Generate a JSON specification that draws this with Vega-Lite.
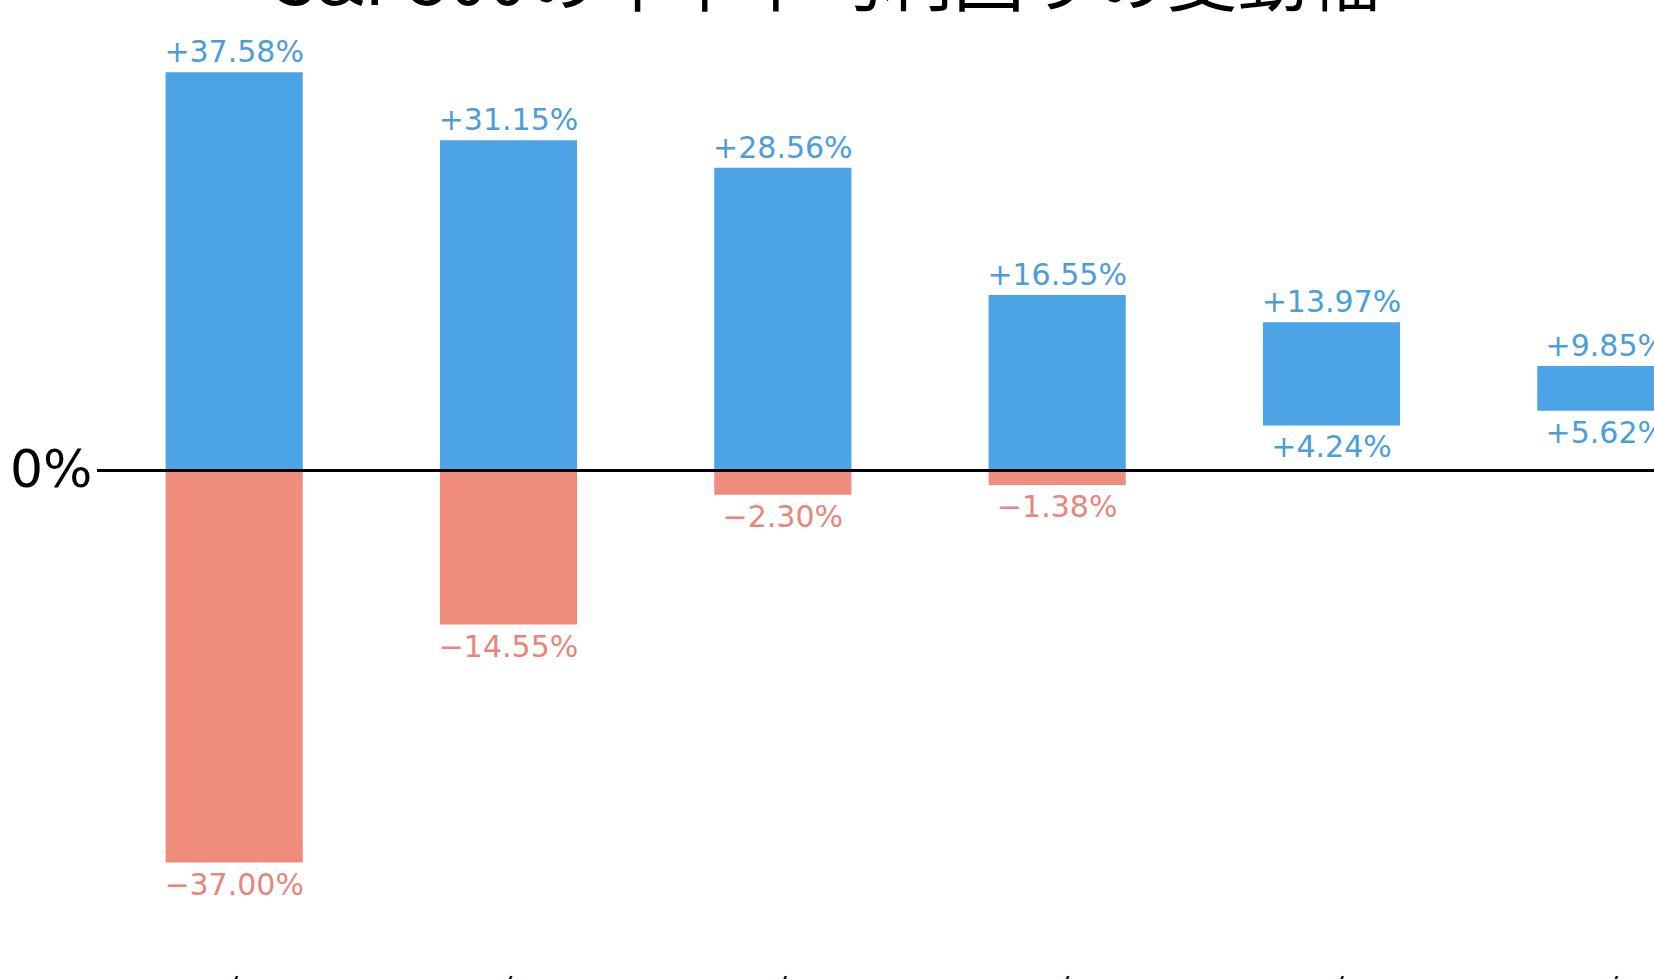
{
  "$schema": "https://vega.github.io/schema/vega-lite/v6.json",
  "autosize": {"type": "none"},
  "width": 1557,
  "height": 940,
  "padding": {"left": 97, "top": 20, "right": 0, "bottom": 19},
  "background": "white",
  "title": {
    "text": "S&P500の年率平均利回りの変動幅",
    "font": "Noto Sans CJK JP",
    "fontSize": 71,
    "fontWeight": "normal",
    "color": "black",
    "anchor": "middle",
    "baseline": "alphabetic",
    "offset": 4,
    "dx": -49,
    "dy": 60
  },
  "config": {"view": {"stroke": null}},
  "data": {
    "values": [
      {"period": "1年", "high": 37.58, "low": -37.00},
      {"period": "3年", "high": 31.15, "low": -14.55},
      {"period": "5年", "high": 28.56, "low": -2.30},
      {"period": "10年", "high": 16.55, "low": -1.38},
      {"period": "15年", "high": 13.97, "low": 4.24},
      {"period": "20年", "high": 9.85, "low": 5.62}
    ]
  },
  "transform": [
    {"calculate": "max(datum.low, 0)", "as": "base"},
    {"calculate": "format(datum.high, '+.2f') + '%'", "as": "highLabel"},
    {"calculate": "format(datum.low, '+.2f') + '%'", "as": "lowLabel"}
  ],
  "encoding": {
    "x": {
      "field": "period",
      "type": "nominal",
      "sort": null,
      "scale": {"type": "band", "range": [0, 1646], "paddingInner": 0.5, "paddingOuter": 0.25},
      "axis": {
        "title": null,
        "domain": false,
        "ticks": false,
        "labelAngle": 0,
        "labelFont": "Noto Sans CJK JP",
        "labelFontSize": 30,
        "labelColor": "black",
        "labelPadding": 16
      }
    }
  },
  "layer": [
    {
      "mark": {"type": "bar", "color": "#4CA3E6"},
      "encoding": {
        "y": {
          "field": "high",
          "type": "quantitative",
          "scale": {"domain": [-46.2, 42.5], "nice": false, "zero": false},
          "axis": {
            "title": null,
            "values": [0],
            "labelExpr": "'0%'",
            "domain": false,
            "ticks": false,
            "grid": false,
            "labelFont": "DejaVu Sans",
            "labelFontSize": 52,
            "labelColor": "black",
            "labelPadding": 5
          }
        },
        "y2": {"field": "base"}
      }
    },
    {
      "transform": [{"filter": "datum.low < 0"}],
      "mark": {"type": "bar", "color": "#F08C7B"},
      "encoding": {
        "y": {"field": "low", "type": "quantitative"},
        "y2": {"datum": 0}
      }
    },
    {
      "mark": {"type": "rule", "color": "black", "strokeWidth": 2.8},
      "encoding": {
        "y": {"datum": 0, "type": "quantitative"},
        "x": {"value": 0},
        "x2": {"value": 1646}
      }
    },
    {
      "mark": {"type": "text", "font": "DejaVu Sans", "fontSize": 30, "baseline": "alphabetic", "dy": -10, "color": "#4D9DD8"},
      "encoding": {
        "y": {"field": "high", "type": "quantitative"},
        "text": {"field": "highLabel"}
      }
    },
    {
      "mark": {"type": "text", "font": "DejaVu Sans", "fontSize": 30, "baseline": "alphabetic", "dy": 32},
      "encoding": {
        "y": {"field": "low", "type": "quantitative"},
        "text": {"field": "lowLabel"},
        "color": {
          "condition": {"test": "datum.low < 0", "value": "#E5877A"},
          "value": "#4D9DD8"
        }
      }
    }
  ]
}
